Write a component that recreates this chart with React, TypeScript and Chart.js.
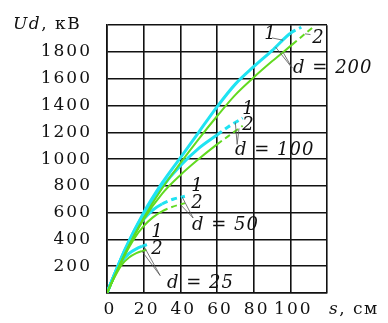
import { useEffect, useRef } from "react";
import { Chart, registerables } from "chart.js";

Chart.register(...registerables);

// Axis ticks
const sTickLabels = [0, 20, 40, 60, 80, 100];
const uTickLabels = [200, 400, 600, 800, 1000, 1200, 1400, 1600, 1800];

// Sphere diameter d = 200 cm
const s200a = [0, 5, 10, 20, 30, 40, 50, 60, 70, 80, 90, 100, 106];
const u200a = [0, 170, 330, 600, 820, 1010, 1200, 1390, 1560, 1690, 1810, 1940, 1985];
const dash200a = 100;
const s200b = [0, 5, 10, 20, 30, 40, 50, 60, 70, 80, 90, 101, 113];
const u200b = [0, 150, 300, 560, 780, 970, 1150, 1320, 1480, 1610, 1730, 1855, 1993];
const dash200b = 101;

// d = 100 cm
const s100a = [0, 5, 10, 20, 30, 40, 50, 60, 66, 74];
const u100a = [0, 170, 330, 590, 790, 950, 1080, 1180, 1240, 1307];
const dash100a = 60;
const s100b = [0, 5, 10, 20, 30, 40, 50, 60, 66, 74];
const u100b = [0, 150, 300, 550, 740, 880, 1000, 1110, 1170, 1249];
const dash100b = 60;

// d = 50 cm
const s50a = [0, 5, 10, 15, 20, 25, 30, 36, 42.5];
const u50a = [0, 170, 320, 450, 550, 620, 665, 700, 722];
const dash50a = 26;
const s50b = [0, 5, 10, 15, 20, 25, 30, 36, 42.5];
const u50b = [0, 150, 290, 410, 500, 565, 610, 645, 671];
const dash50b = 26;

// d = 25 cm
const s25a = [0, 4, 8, 12, 16, 19, 21.8];
const u25a = [0, 135, 235, 295, 330, 348, 361];
const dash25a = 18;
const s25b = [0, 4, 8, 12, 16, 19, 21.5];
const u25b = [0, 115, 210, 265, 298, 313, 322];
const dash25b = 18;

const CYAN = "#1fe3f2";
const GREEN = "#62da20";
const SERIF = "'DejaVu Serif', 'Liberation Serif', serif";

const toPoints = (s: number[], u: number[]) => s.map((x, i) => ({ x, y: u[i] }));

const uAt = (s: number[], u: number[], x: number) => {
  for (let i = 1; i < s.length; i++) {
    if (x <= s[i]) {
      const t = (x - s[i - 1]) / (s[i] - s[i - 1]);
      return u[i - 1] + t * (u[i] - u[i - 1]);
    }
  }
  return u[u.length - 1];
};

const curve = (label: string, s: number[], u: number[], dashFrom: number, color: string, width: number) => ({
  label,
  data: toPoints(s, u),
  borderColor: color,
  borderWidth: width,
  pointRadius: 0,
  cubicInterpolationMode: "monotone" as const,
  fill: false,
  segment: {
    borderDash: (ctx: any) => (ctx.p0.parsed.x >= dashFrom - 1e-6 ? [6, 4] : undefined),
  },
});

// Caption texts and leader lines, placed in data coordinates
const notesPlugin = {
  id: "notes",
  beforeDraw(chart: any) {
    chart.ctx.letterSpacing = "2px";
  },
  afterDraw(chart: any) {
    const { ctx, scales } = chart;
    const X = (v: number) => scales.x.getPixelForValue(v);
    const Y = (v: number) => scales.y.getPixelForValue(v);
    ctx.save();
    ctx.fillStyle = "#111";
    ctx.textBaseline = "middle";

    // axis captions
    const ital = `italic 17px ${SERIF}`;
    const reg = `17px ${SERIF}`;
    const drawMixed = (parts: [string, string][], x: number, y: number) => {
      let cx = x;
      for (const [font, text] of parts) {
        ctx.font = font;
        ctx.fillText(text, cx, y);
        cx += ctx.measureText(text).width;
      }
    };
    ctx.textAlign = "left";
    ctx.letterSpacing = "1.5px";
    drawMixed([[ital, "Ud"], [reg, ", кВ"]], 13, Y(2000) - 1);
    drawMixed([[ital, "s"], [reg, ", см"]], 329, Y(0) + 17);

    // leader lines
    ctx.strokeStyle = "#555";
    ctx.lineWidth = 0.8;
    const lead = (x0: number, y0: number, x1: number, y1: number) => {
      ctx.beginPath();
      ctx.moveTo(X(x0), Y(y0));
      ctx.lineTo(X(x1), Y(y1));
      ctx.stroke();
    };
    lead(101, 1680, 92, uAt(s200a, u200a, 92));
    lead(101, 1680, 96, uAt(s200b, u200b, 96));
    lead(90, 1905, 96, uAt(s200a, u200a, 96));
    lead(111, 1930, 108, uAt(s200b, u200b, 108));
    lead(71, 1110, 70, uAt(s100a, u100a, 70));
    lead(71, 1110, 72, uAt(s100b, u100b, 72));
    lead(47, 560, 41, uAt(s50a, u50a, 41));
    lead(47, 560, 40, uAt(s50b, u50b, 40));
    lead(29, 130, 20, uAt(s25a, u25a, 20));
    lead(29, 130, 19, uAt(s25b, u25b, 19));

    // curve numbers and diameters
    const note = (text: string, s: number, u: number) => {
      ctx.font = `italic 18px ${SERIF}`;
      ctx.fillText(text, X(s), Y(u));
    };
    ctx.letterSpacing = "0px";
    ctx.textAlign = "center";
    note("1", 88.9, 1935);
    note("2", 115.1, 1899);
    note("1", 76.9, 1372);
    note("2", 76.9, 1249);
    note("1", 49.1, 794);
    note("2", 49.1, 671);
    note("1", 27.3, 455);
    note("2", 27.3, 325);
    ctx.letterSpacing = "1px";
    ctx.textAlign = "left";
    note("d = 200", 101.5, 1675);
    note("d = 100", 69.8, 1069);
    note("d = 50", 46.4, 505);
    note("d = 25", 32.7, 72);
    ctx.restore();
  },
};

export default function App() {
  const canvasRef = useRef<HTMLCanvasElement | null>(null);

  useEffect(() => {
    if (!canvasRef.current) return;
    const tickFont = { family: SERIF, size: 17 };
    const chart = new Chart(canvasRef.current, {
      type: "line",
      data: {
        datasets: [
          curve("d=25 2", s25b, u25b, dash25b, GREEN, 2),
          curve("d=50 2", s50b, u50b, dash50b, GREEN, 2),
          curve("d=100 2", s100b, u100b, dash100b, GREEN, 2),
          curve("d=200 2", s200b, u200b, dash200b, GREEN, 2),
          curve("d=25 1", s25a, u25a, dash25a, CYAN, 3),
          curve("d=50 1", s50a, u50a, dash50a, CYAN, 3),
          curve("d=100 1", s100a, u100a, dash100a, CYAN, 3),
          curve("d=200 1", s200a, u200a, dash200a, CYAN, 3),
        ],
      },
      options: {
        animation: false,
        responsive: true,
        maintainAspectRatio: false,
        layout: { padding: { top: 16, right: 61, left: 0, bottom: 0 } },
        plugins: { legend: { display: false }, tooltip: { enabled: false } },
        scales: {
          x: {
            type: "linear",
            min: 0,
            max: 120,
            afterFit: (scale: any) => {
              scale.height = 30;
            },
            afterBuildTicks: (scale: any) => {
              scale.ticks = [...sTickLabels, 120].map((value) => ({ value }));
            },
            ticks: {
              autoSkip: false,
              maxRotation: 0,
              padding: 6,
              labelOffset: 3,
              color: "#111",
              font: tickFont,
              callback: (v: any) => (sTickLabels.includes(Number(v)) ? String(v) : ""),
            },
            grid: { color: "#111", lineWidth: 1.6, drawTicks: false },
            border: { color: "#111", width: 1.6 },
          },
          y: {
            type: "linear",
            min: 0,
            max: 2000,
            afterFit: (scale: any) => {
              scale.width = 107;
            },
            afterBuildTicks: (scale: any) => {
              scale.ticks = [0, ...uTickLabels, 2000].map((value) => ({ value }));
            },
            ticks: {
              autoSkip: false,
              padding: 15,
              color: "#111",
              font: tickFont,
              callback: (v: any) => (uTickLabels.includes(Number(v)) ? String(v) : ""),
            },
            grid: { color: "#111", lineWidth: 1.6, drawTicks: false },
            border: { color: "#111", width: 1.6 },
          },
        },
      },
      plugins: [notesPlugin],
    });
    return () => chart.destroy();
  }, []);

  return (
    <div style={{ position: "fixed", left: 0, top: 0, width: 388, height: 323, background: "#fff" }}>
      <canvas ref={canvasRef} />
    </div>
  );
}
